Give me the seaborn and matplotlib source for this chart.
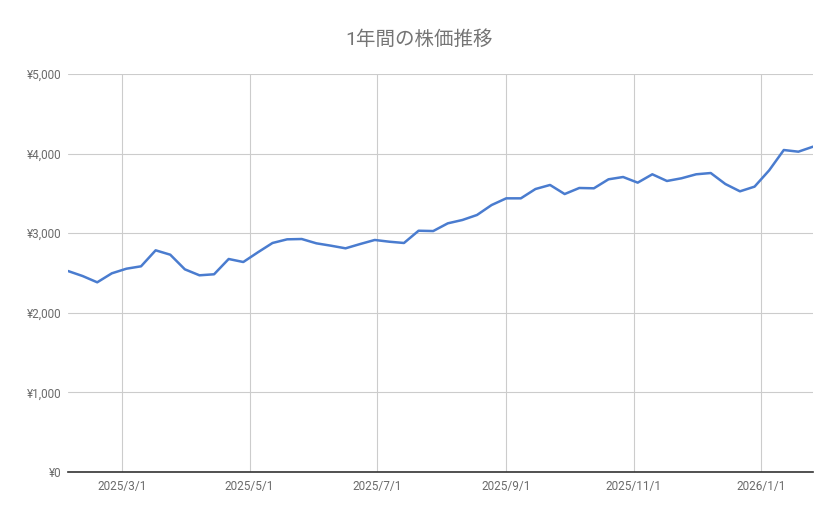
import matplotlib
matplotlib.use("Agg")
import matplotlib.pyplot as plt
import matplotlib.dates as mdates
import matplotlib.ticker as mticker
import numpy as np
import pandas as pd
import seaborn as sns

# ---- data ----
start_date = "2025-02-03"
n_weeks = 52
prices = [2525, 2462, 2383, 2496, 2554, 2584, 2785, 2730, 2546, 2471,
          2484, 2676, 2638, 2760, 2877, 2923, 2927, 2873, 2843, 2810,
          2864, 2915, 2893, 2877, 3031, 3027, 3124, 3166, 3229, 3354,
          3438, 3438, 3555, 3606, 3492, 3568, 3564, 3677, 3706, 3635,
          3740, 3656, 3690, 3740, 3756, 3618, 3526, 3585, 3790, 4045,
          4024, 4087]
dates = pd.date_range(start_date, periods=n_weeks, freq="7D")
title = "1年間の株価推移"
y_ticks = [0, 1000, 2000, 3000, 4000, 5000]

df = pd.DataFrame({"date": dates, "price": prices})

sns.set_theme(style="white")
plt.rcParams["font.family"] = ["Roboto", "Noto Sans CJK JP", "DejaVu Sans"]

fig = plt.figure(figsize=(8.39, 5.19), dpi=100)
W, H = 839, 519
ax = fig.add_axes([68 / W, (H - 472) / H, (813 - 68) / W, (472 - 74) / H])

sns.lineplot(data=df, x="date", y="price", ax=ax, color="#4a7ccf",
             linewidth=1.8, zorder=3)

ax.set_xlim(dates[0], dates[-1])
ax.set_ylim(0, 5000)
ax.set_yticks(y_ticks)
ax.yaxis.set_major_formatter(mticker.FuncFormatter(lambda v, p: f"¥{int(v):,}"))

ax.xaxis.set_major_locator(mdates.MonthLocator(bymonth=[1, 3, 5, 7, 9, 11], bymonthday=1))
def fmt_date(v, p):
    d = mdates.num2date(v)
    return f"{d.year}/{d.month}/{d.day}"
ax.xaxis.set_major_formatter(mticker.FuncFormatter(fmt_date))

ax.grid(True, color="#cccccc", linewidth=0.8)
ax.set_axisbelow(True)
for s in ["left", "right", "top"]:
    ax.spines[s].set_visible(False)
ax.spines["bottom"].set_color("#333333")
ax.spines["bottom"].set_linewidth(1.2)
ax.spines["bottom"].set_zorder(4)

ax.tick_params(axis="both", length=0, labelsize=8.5, labelcolor="#6b6b6b")
ax.tick_params(axis="y", pad=5)
ax.tick_params(axis="x", pad=6)
ax.set_xlabel("")
ax.set_ylabel("")

fig.text(0.5, (H - 40) / H, title, ha="center", va="center",
         fontsize=14, color="#757575",
         family=["Roboto", "Noto Sans CJK JP"])

fig.savefig("out.png", dpi=100, facecolor="white")
